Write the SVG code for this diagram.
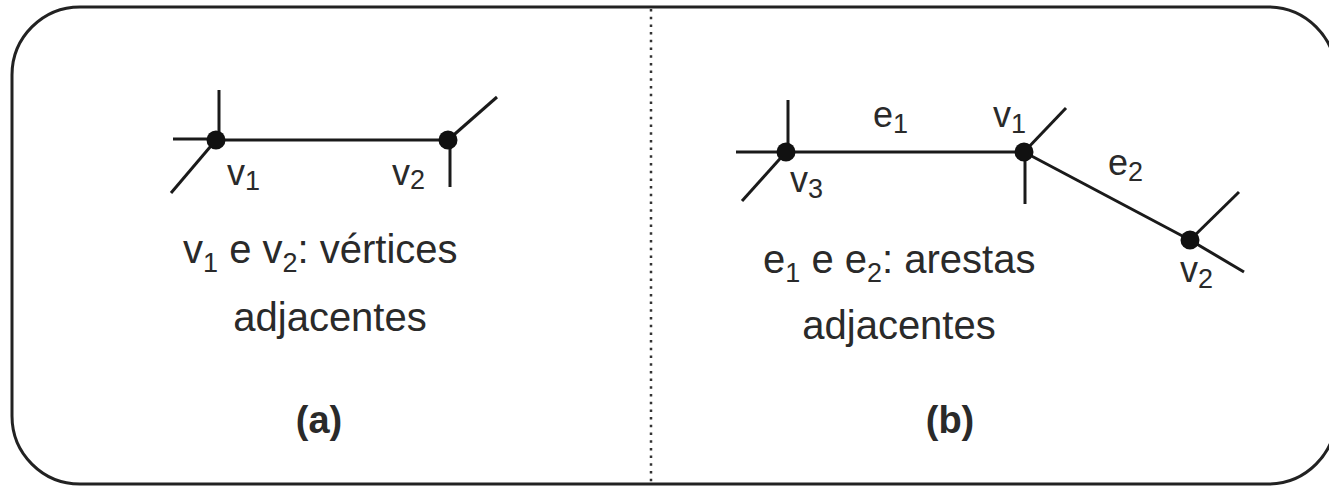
<svg xmlns="http://www.w3.org/2000/svg" width="1329" height="486" viewBox="0 0 1329 486">
<style>
.edge{stroke:#1a1a1a;stroke-width:3;fill:none;stroke-linecap:butt}
.dot{fill:#111}
.t{font-family:"Liberation Sans",Arial,Helvetica,sans-serif;fill:#2a2a2a}
.main{font-size:40px}
.lbl{font-size:36px}
.sub{font-size:27px}
.cap{font-size:38px;font-weight:bold}
</style>
<rect x="12" y="7" width="1324" height="477" rx="68" ry="68" fill="#fff" stroke="#222" stroke-width="3"/>
<line x1="651" y1="9" x2="651" y2="486" stroke="#333" stroke-width="2.5" stroke-dasharray="2.5 5.2"/>
<g id="connectors">
  <line class="edge" x1="216" y1="140" x2="448" y2="140"/>
  <line class="edge" x1="219" y1="90" x2="219" y2="140"/>
  <line class="edge" x1="173" y1="139" x2="216" y2="139"/>
  <line class="edge" x1="171" y1="193" x2="216" y2="140"/>
  <line class="edge" x1="448" y1="140" x2="497" y2="97"/>
  <line class="edge" x1="450" y1="140" x2="450" y2="187"/>
  <line class="edge" x1="786" y1="152" x2="1024" y2="152"/>
  <line class="edge" x1="788" y1="100" x2="788" y2="152"/>
  <line class="edge" x1="736" y1="152" x2="786" y2="152"/>
  <line class="edge" x1="742" y1="201" x2="786" y2="152"/>
  <line class="edge" x1="1024" y1="152" x2="1066" y2="108"/>
  <line class="edge" x1="1025" y1="152" x2="1025" y2="204"/>
  <line class="edge" x1="1024" y1="152" x2="1190" y2="240"/>
  <line class="edge" x1="1190" y1="240" x2="1239" y2="192"/>
  <line class="edge" x1="1190" y1="240" x2="1244" y2="272"/>
</g>
<g id="node-a-v1"><circle class="dot" cx="216" cy="140" r="9.5"/><text class="t lbl" x="227" y="185">v<tspan class="sub" dy="5">1</tspan></text></g>
<g id="node-a-v2"><circle class="dot" cx="448" cy="140" r="9.5"/><text class="t lbl" x="392" y="185">v<tspan class="sub" dy="4">2</tspan></text></g>
<g id="node-b-v3"><circle class="dot" cx="786" cy="152" r="9.5"/><text class="t lbl" x="790" y="192">v<tspan class="sub" dy="6">3</tspan></text></g>
<g id="node-b-v1"><circle class="dot" cx="1024" cy="152" r="9.5"/><text class="t lbl" x="993" y="127">v<tspan class="sub" dy="6">1</tspan></text></g>
<g id="node-b-v2"><circle class="dot" cx="1190" cy="240" r="9.5"/><text class="t lbl" x="1180" y="282">v<tspan class="sub" dy="6">2</tspan></text></g>
<g id="label-e1"><text class="t lbl" x="873" y="127">e<tspan class="sub" dy="6">1</tspan></text></g>
<g id="label-e2"><text class="t lbl" x="1108" y="175">e<tspan class="sub" dy="6">2</tspan></text></g>
<g id="caption-a">
  <text class="t main" x="183" y="263">v<tspan class="sub" font-size="28" dy="9">1</tspan><tspan dy="-9"> e v</tspan><tspan class="sub" font-size="28" dy="9">2</tspan><tspan dy="-9">: vértices</tspan></text>
  <text class="t main" x="330" y="331" text-anchor="middle">adjacentes</text>
  <text class="t cap" x="319" y="433" text-anchor="middle">(a)</text>
</g>
<g id="caption-b">
  <text class="t main" x="763" y="273">e<tspan class="sub" font-size="28" dy="9">1</tspan><tspan dy="-9"> e e</tspan><tspan class="sub" font-size="28" dy="9">2</tspan><tspan dy="-9">: arestas</tspan></text>
  <text class="t main" x="899" y="339" text-anchor="middle">adjacentes</text>
  <text class="t cap" x="950" y="433" text-anchor="middle">(b)</text>
</g>
</svg>
